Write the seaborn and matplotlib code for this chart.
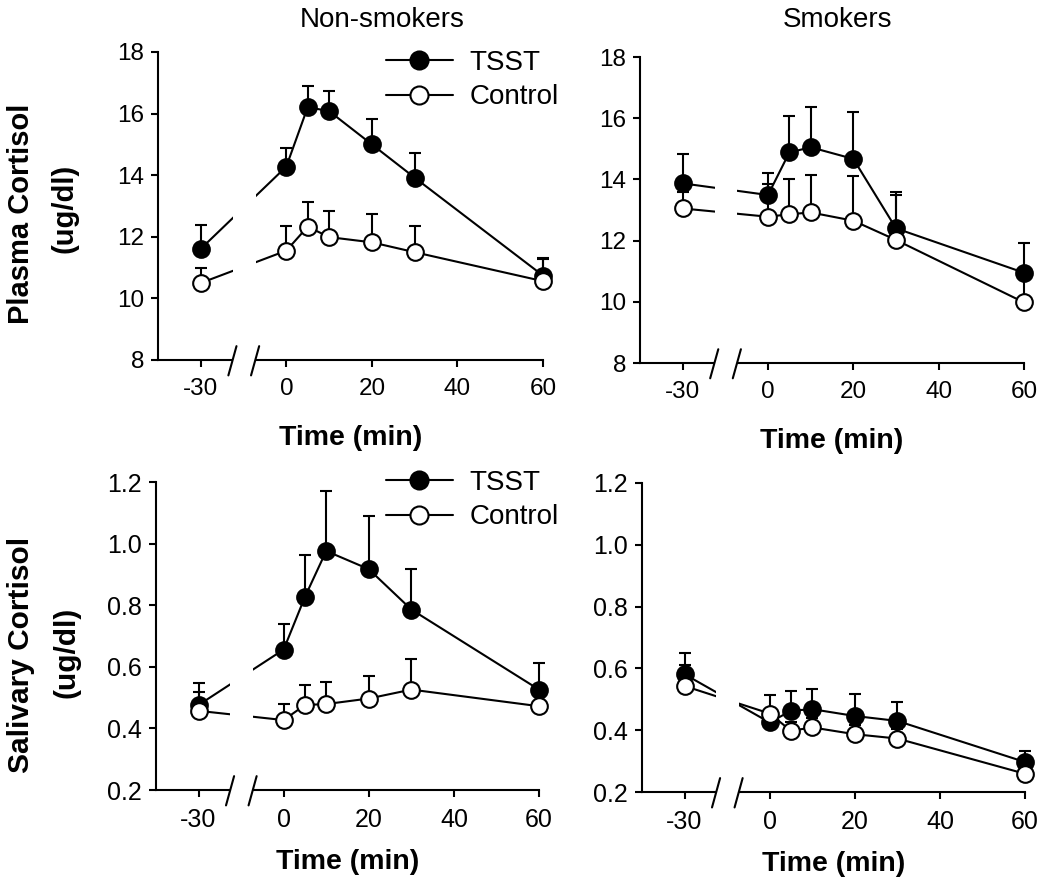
import numpy as np
import pandas as pd
import matplotlib
matplotlib.use("Agg")
import matplotlib.pyplot as plt
import seaborn as sns
from matplotlib.lines import Line2D
from matplotlib.patches import Rectangle
import matplotlib.transforms as mtransforms

# ---------------- data ----------------
times = [-30, 0, 5, 10, 20, 30, 60]
tick_times = [-30, 0, 20, 40, 60]
groups = ["TSST", "Control"]
col_titles = ["Non-smokers", "Smokers"]
row_line1 = ["Plasma Cortisol", "Salivary Cortisol"]
row_line2 = ["(ug/dl)", "(ug/dl)"]

plasma_ns_tsst = [11.61, 14.28, 16.21, 16.08, 15.00, 13.92, 10.74]
plasma_ns_tsst_sem = [0.76, 0.61, 0.67, 0.65, 0.83, 0.80, 0.58]
plasma_ns_ctrl = [10.50, 11.55, 12.33, 11.99, 11.82, 11.50, 10.56]
plasma_ns_ctrl_sem = [0.49, 0.79, 0.79, 0.86, 0.93, 0.84, 0.72]

plasma_s_tsst = [13.87, 13.49, 14.88, 15.05, 14.67, 12.40, 10.95]
plasma_s_tsst_sem = [0.95, 0.73, 1.19, 1.33, 1.53, 1.19, 0.98]
plasma_s_ctrl = [13.05, 12.78, 12.86, 12.92, 12.65, 12.02, 9.98]
plasma_s_ctrl_sem = [0.55, 1.07, 1.14, 1.22, 1.46, 1.46, 0.80]

saliv_ns_tsst = [0.476, 0.656, 0.827, 0.976, 0.917, 0.786, 0.526]
saliv_ns_tsst_sem = [0.070, 0.082, 0.135, 0.195, 0.172, 0.133, 0.085]
saliv_ns_ctrl = [0.457, 0.427, 0.476, 0.479, 0.497, 0.526, 0.472]
saliv_ns_ctrl_sem = [0.060, 0.051, 0.065, 0.072, 0.073, 0.098, 0.040]

saliv_s_tsst = [0.581, 0.425, 0.463, 0.468, 0.446, 0.430, 0.297]
saliv_s_tsst_sem = [0.070, 0.035, 0.063, 0.064, 0.070, 0.060, 0.035]
saliv_s_ctrl = [0.543, 0.454, 0.398, 0.409, 0.387, 0.373, 0.259]
saliv_s_ctrl_sem = [0.068, 0.060, 0.030, 0.030, 0.030, 0.030, 0.025]

plasma_ticks = [8, 10, 12, 14, 16, 18]
saliv_ticks = [0.2, 0.4, 0.6, 0.8, 1.0, 1.2]

# ---------------- style ----------------
sns.set_theme(style="ticks")
plt.rcParams["font.family"] = ["Liberation Sans", "DejaVu Sans"]
plt.rcParams.update({
    "axes.linewidth": 1.5,
    "xtick.major.width": 1.5,
    "ytick.major.width": 1.5,
    "xtick.major.size": 5,
    "ytick.major.size": 5,
    "xtick.color": "black",
    "ytick.color": "black",
    "axes.edgecolor": "black",
    "text.color": "black",
    "axes.labelcolor": "black",
})


def pos(t):
    # broken time axis: the -30 baseline is drawn compressed
    t = np.asarray(t, dtype=float)
    return np.where(t < 0, t * 2.0 / 3.0, t)


fig = plt.figure(figsize=(10.5, 8.82), dpi=100)
W, H = 1050.0, 882.0


def add_ax(left, right, top, bottom):
    return fig.add_axes([left / W, 1 - bottom / H, (right - left) / W, (bottom - top) / H])


axes = [[add_ax(158, 543, 52, 360), add_ax(640, 1024, 57, 363)],
        [add_ax(156, 539, 482, 790), add_ax(642, 1025, 483, 792)]]

panels = [
    [(plasma_ns_tsst, plasma_ns_tsst_sem, plasma_ns_ctrl, plasma_ns_ctrl_sem),
     (plasma_s_tsst, plasma_s_tsst_sem, plasma_s_ctrl, plasma_s_ctrl_sem)],
    [(saliv_ns_tsst, saliv_ns_tsst_sem, saliv_ns_ctrl, saliv_ns_ctrl_sem),
     (saliv_s_tsst, saliv_s_tsst_sem, saliv_s_ctrl, saliv_s_ctrl_sem)],
]

tick_fs = [17.5, 18]
xlabel_pad = [18, 12]

xp = pos(times)
for r in range(2):
    for c in range(2):
        ax = axes[r][c]
        t_m, t_s, c_m, c_s = panels[r][c]
        # error bars (upper only)
        for m, s, z in [(t_m, t_s, 1), (c_m, c_s, 1.1)]:
            ax.errorbar(xp, m, yerr=[np.zeros(len(s)), s], fmt="none", ecolor="black",
                        elinewidth=1.5, capsize=4, capthick=1.5, zorder=z, clip_on=False)
        df = pd.DataFrame({"x": np.concatenate([xp, xp]),
                           "y": list(t_m) + list(c_m),
                           "g": ["TSST"] * len(xp) + ["Control"] * len(xp)})
        for g, fc, z in [("TSST", "black", 2), ("Control", "white", 3)]:
            sub = df[df.g == g]
            sns.lineplot(data=sub, x="x", y="y", ax=ax, color="black", linewidth=1.5,
                         marker="o", markersize=12, markerfacecolor=fc,
                         markeredgecolor="black", markeredgewidth=1.5,
                         legend=False, zorder=z, clip_on=False, errorbar=None)
        ax.set_xlim(-30, 60)
        if r == 0:
            ax.set_ylim(8, 18)
            ax.set_yticks(plasma_ticks)
            ax.set_yticklabels([str(v) for v in plasma_ticks])
        else:
            ax.set_ylim(0.2, 1.2)
            ax.set_yticks(saliv_ticks)
            ax.set_yticklabels([f"{v:.1f}" for v in saliv_ticks])
        ax.set_xticks(pos(tick_times))
        ax.set_xticklabels([str(t) for t in tick_times])
        ax.tick_params(axis="both", labelsize=tick_fs[r])
        ax.tick_params(axis="x", pad=8)
        ax.tick_params(axis="y", pad=5)
        ax.set_xlabel("Time (min)", fontsize=20.5, fontweight="bold", labelpad=xlabel_pad[r])
        ax.set_ylabel("")
        sns.despine(ax=ax)
        # axis break: white gap over lines and spine, plus two slashes
        trans = mtransforms.blended_transform_factory(ax.transData, ax.transAxes)
        ax.add_patch(Rectangle((-12.5, -0.02), 5.3, 1.05, transform=trans,
                               facecolor="white", edgecolor="none", zorder=5, clip_on=False))
        for xc in (-12.6, -7.3):
            ax.plot([xc - 0.95, xc + 0.95], [-0.05, 0.045], transform=trans,
                    color="black", linewidth=1.5, zorder=6, clip_on=False)

# legends in left column
handles = [Line2D([], [], color="black", linewidth=1.5, marker="o", markersize=13,
                  markerfacecolor=fc, markeredgecolor="black", markeredgewidth=1.5)
           for fc in ("black", "white")]
for r, top in [(0, 50), (1, 470)]:
    axes[r][0].legend(handles, groups, loc="upper left",
                      bbox_to_anchor=(386 / W, 1 - top / H), bbox_transform=fig.transFigure,
                      frameon=False, fontsize=20, handlelength=2.4, handletextpad=0.6,
                      borderaxespad=0, borderpad=0, labelspacing=0.3)

# column titles
fig.text(382 / W, 1 - 20 / H, col_titles[0], fontsize=20, ha="center", va="center")
fig.text(838 / W, 1 - 20 / H, col_titles[1], fontsize=20, ha="center", va="center")

# row labels
for i, (x1, y1, x2, y2, fs) in enumerate([(21, 214, 64, 208, 21), (21, 655, 66, 652, 21.5)]):
    fig.text(x1 / W, 1 - y1 / H, row_line1[i], fontsize=fs, fontweight="bold",
             rotation=90, ha="center", va="center")
    fig.text(x2 / W, 1 - y2 / H, row_line2[i], fontsize=fs, fontweight="bold",
             rotation=90, ha="center", va="center")

fig.savefig("out.png", dpi=100, facecolor="white")
